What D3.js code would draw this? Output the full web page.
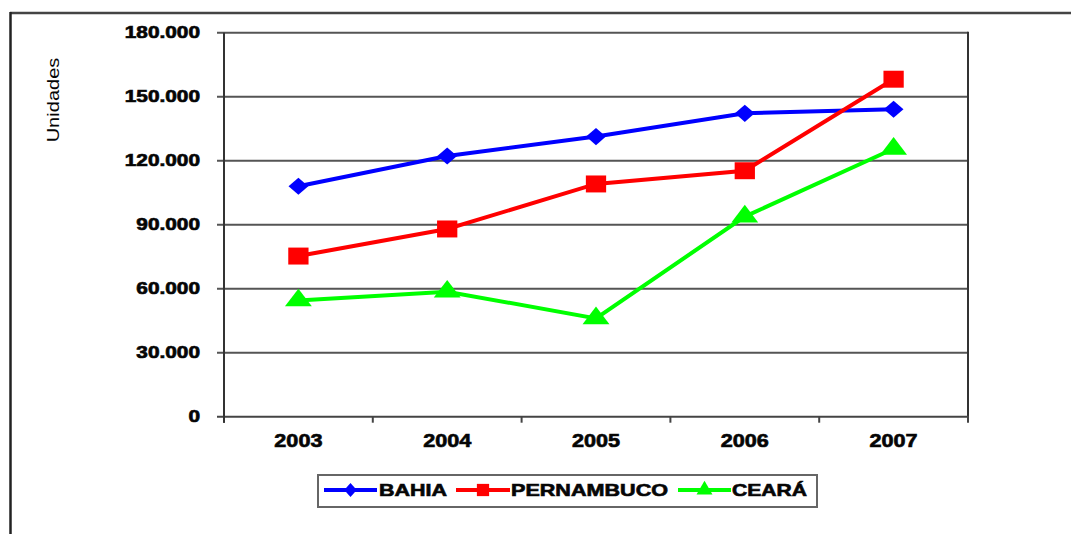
<!DOCTYPE html>
<html>
<head>
<meta charset="utf-8">
<script src="https://cdn.jsdelivr.net/npm/d3@7"></script>
<style>
  html, body { margin: 0; padding: 0; background: #fff; }
  svg { display: block; }
  text { font-family: Arial, "Liberation Sans", sans-serif; fill: #050505; }
  text.heavy { stroke: #1a1a1a; stroke-width: 0.7px; paint-order: stroke; }
</style>
</head>
<body>
<svg id="chart" width="1071" height="534"></svg>
<script>
// Housing units per state, 2003–2007
const years = ["2003", "2004", "2005", "2006", "2007"];
const bahia = [108000, 122200, 131300, 142200, 144100];
const pernambuco = [75300, 88000, 109100, 115300, 158200];
const ceara = [54500, 58600, 46100, 93800, 125600];
const yTicks = [0, 30000, 60000, 90000, 120000, 150000, 180000];
const seriesNames = ["BAHIA", "PERNAMBUCO", "CEARÁ"];
const seriesColors = ["#0000ff", "#ff0000", "#00ff00"];
const seriesShapes = ["diamond", "square", "triangle"];

const series = [bahia, pernambuco, ceara].map((values, i) => ({
  name: seriesNames[i], color: seriesColors[i], shape: seriesShapes[i], values
}));

const svg = d3.select("#chart");
const plot = { left: 224, right: 968, top: 32.7, bottom: 416.7 };

const x = d3.scaleBand().domain(years).range([plot.left, plot.right]).padding(0);
const y = d3.scaleLinear().domain([0, 180000]).range([plot.bottom, plot.top]);

// widen text horizontally
function stretch(sel, factor) {
  sel.each(function () {
    const w = this.getComputedTextLength();
    d3.select(this).attr("textLength", w * factor).attr("lengthAdjust", "spacingAndGlyphs");
  });
}

// outer frame (top and left edges)
svg.append("line").attr("x1", 10).attr("x2", 1071).attr("y1", 13).attr("y2", 13)
  .attr("stroke", "#444").attr("stroke-width", 2.5);
svg.append("line").attr("x1", 10.5).attr("x2", 10.5).attr("y1", 12).attr("y2", 534)
  .attr("stroke", "#222").attr("stroke-width", 2.5);

// horizontal gridlines with left tick stubs
svg.append("g").selectAll("line").data(yTicks.filter(d => d > 0)).join("line")
  .attr("x1", plot.left - 7).attr("x2", plot.right)
  .attr("y1", d => y(d)).attr("y2", d => y(d))
  .attr("stroke", "#555").attr("stroke-width", 2);

// right border of plot
svg.append("line").attr("x1", plot.right).attr("x2", plot.right)
  .attr("y1", plot.top - 1).attr("y2", plot.bottom)
  .attr("stroke", "#333").attr("stroke-width", 2);

// x axis
const xAxis = d3.axisBottom(x).tickSize(0).tickFormat("");
const gx = svg.append("g").attr("transform", `translate(0,${plot.bottom})`).call(xAxis);
gx.select(".domain").remove();
svg.append("line").attr("x1", plot.left - 7).attr("x2", plot.right + 1)
  .attr("y1", plot.bottom).attr("y2", plot.bottom)
  .attr("stroke", "#444").attr("stroke-width", 2);
const boundaries = years.map(d => x(d)).concat([plot.right]);
svg.append("g").selectAll("line").data(boundaries).join("line")
  .attr("x1", d => d).attr("x2", d => d)
  .attr("y1", plot.bottom).attr("y2", plot.bottom + 6)
  .attr("stroke", "#444").attr("stroke-width", 2);

// y axis line
svg.append("line").attr("x1", plot.left).attr("x2", plot.left)
  .attr("y1", plot.top).attr("y2", plot.bottom + 6)
  .attr("stroke", "#333").attr("stroke-width", 2);

// y tick labels
const fmt = d => d3.format(",")(d).replace(/,/g, ".");
svg.append("g").selectAll("text").data(yTicks).join("text")
  .attr("class", "heavy")
  .attr("x", 200).attr("y", d => y(d)).attr("dy", "0.36em")
  .attr("text-anchor", "end")
  .style("font-size", "16px").style("font-weight", "bold")
  .text(fmt)
  .call(stretch, 1.3);

// x category labels
svg.append("g").selectAll("text").data(years).join("text")
  .attr("class", "heavy")
  .attr("x", d => x(d) + x.bandwidth() / 2).attr("y", 441).attr("dy", "0.36em")
  .attr("text-anchor", "middle")
  .style("font-size", "18px").style("font-weight", "bold")
  .text(d => d)
  .call(stretch, 1.2);

// y axis title
svg.append("text")
  .attr("transform", "translate(53,100) rotate(-90)")
  .attr("text-anchor", "middle").attr("dy", "0.36em")
  .style("font-size", "17px")
  .text("Unidades")
  .call(stretch, 1.18);

// marker shapes
const symbolFor = {
  diamond: d3.symbol().type(d3.symbolDiamond).size(150),
  square: d3.symbol().type(d3.symbolSquare).size(340),
  triangle: d3.symbol().type(d3.symbolTriangle).size(200)
};
const shapeScale = { diamond: "scale(1.5,0.75)", square: "scale(1.1,0.92)", triangle: "scale(1.25,0.95)" };

const line = d3.line()
  .x((d, i) => x(years[i]) + x.bandwidth() / 2)
  .y(d => y(d));

const gSeries = svg.append("g").selectAll("g").data(series).join("g");
gSeries.append("path")
  .attr("d", d => line(d.values))
  .attr("fill", "none").attr("stroke", d => d.color).attr("stroke-width", 4);
gSeries.each(function (s) {
  d3.select(this).selectAll("path.m").data(s.values).join("path")
    .attr("class", "m")
    .attr("transform", (v, i) => `translate(${x(years[i]) + x.bandwidth() / 2},${y(v)}) ${shapeScale[s.shape]}`)
    .attr("d", symbolFor[s.shape])
    .attr("fill", s.color);
});

// legend
const legend = svg.append("g");
legend.append("rect").attr("x", 318).attr("y", 475).attr("width", 499).attr("height", 32)
  .attr("fill", "#fff").attr("stroke", "#666").attr("stroke-width", 2);
const legendItems = [
  { x0: 324, x1: 377, tx: 379, tw: 68 },
  { x0: 456, x1: 510, tx: 511, tw: 157 },
  { x0: 678, x1: 731, tx: 732, tw: 75 }
];
const ly = 490;
const smallSymbol = {
  diamond: d3.symbol().type(d3.symbolDiamond).size(80),
  square: d3.symbol().type(d3.symbolSquare).size(150),
  triangle: d3.symbol().type(d3.symbolTriangle).size(110)
};
series.forEach((s, i) => {
  const it = legendItems[i];
  legend.append("line").attr("x1", it.x0).attr("x2", it.x1).attr("y1", ly).attr("y2", ly)
    .attr("stroke", s.color).attr("stroke-width", 4);
  legend.append("path")
    .attr("transform", `translate(${(it.x0 + it.x1) / 2},${ly}) ${s.shape === "diamond" ? "scale(1.3,0.85)" : ""}`)
    .attr("d", smallSymbol[s.shape])
    .attr("fill", s.color);
  legend.append("text").attr("class", "heavy")
    .attr("x", it.tx).attr("y", ly).attr("dy", "0.36em")
    .style("font-size", "17px").style("font-weight", "bold")
    .attr("textLength", it.tw).attr("lengthAdjust", "spacingAndGlyphs")
    .text(s.name);
});
</script>
</body>
</html>
